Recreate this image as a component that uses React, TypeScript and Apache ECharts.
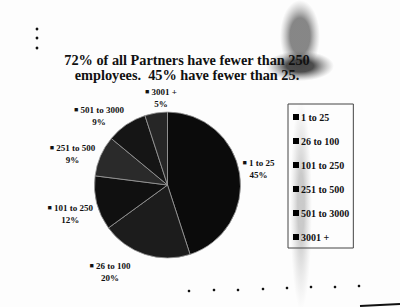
import React, { useEffect, useRef } from "react";
import * as echarts from "echarts";

const categories = ["1 to 25", "26 to 100", "101 to 250", "251 to 500", "501 to 3000", "3001 +"];
const shares = [45, 20, 12, 9, 9, 5];
const titleLines = ["72% of all Partners have fewer than 250", "employees.  45% have fewer than 25."];
const sliceColors = ["#0b0b0b", "#1c1c1c", "#101010", "#2a2a2a", "#151515", "#262626"];
// label nudges (layout only): [dx, dy] per slice
const labelNudge: [number, number][] = [
  [-7, -3],
  [-10, 10],
  [6, 9],
  [4, 1],
  [4, -2],
  [24, -7],
];

const SERIF = "'Liberation Serif', 'Times New Roman', serif";

const grad = (a: string, b: string, mid = 0.45) =>
  new echarts.graphic.RadialGradient(0.5, 0.5, 0.5, [
    { offset: 0, color: a },
    { offset: mid, color: a },
    { offset: 1, color: b },
  ]);

export default function App() {
  const ref = useRef<HTMLDivElement>(null);
  useEffect(() => {
    document.body.style.margin = "0";
    if (!ref.current) return;
    const chart = echarts.init(ref.current, null, { renderer: "svg" });
    const bottomDotsX = [189, 214, 238, 263, 287, 311, 335, 359];
    const bottomDotsY = [291, 290, 290, 289, 288, 287, 287, 286];
    chart.setOption({
      animation: false,
      backgroundColor: "#fdfdfd",
      title: {
        text: titleLines.join("\n"),
        left: 182,
        top: 47,
        textAlign: "center",
        textStyle: {
          fontFamily: SERIF,
          fontWeight: "bold",
          fontSize: 14.3,
          lineHeight: 15,
          color: "#111",
        },
      },
      legend: {
        orient: "vertical",
        left: 288,
        top: 104,
        data: categories,
        icon: "rect",
        itemWidth: 6,
        itemHeight: 6,
        itemGap: 12,
        padding: [7, 4, 5, 5],
        borderColor: "#444",
        borderWidth: 1,
        itemStyle: { color: "#000", borderWidth: 0 },
        textStyle: {
          fontFamily: SERIF,
          fontWeight: "bold",
          fontSize: 10,
          lineHeight: 12,
          color: "#111",
          padding: [0, 0, 0, -3],
        },
      },
      graphic: [
        { type: "ellipse", z: 0, shape: { cx: 300, cy: 36, rx: 20, ry: 36 }, style: { fill: grad("rgba(95,95,95,0.75)", "rgba(150,150,150,0)", 0.5) } },
        { type: "ellipse", z: 0, shape: { cx: 300, cy: 66, rx: 34, ry: 15 }, style: { fill: grad("rgba(45,45,45,0.85)", "rgba(120,120,120,0)", 0.4) } },
        { type: "ellipse", z: 0, shape: { cx: 301, cy: 205, rx: 11, ry: 105 }, style: { fill: grad("rgba(140,140,140,0.45)", "rgba(180,180,180,0)", 0.3) } },
        { type: "circle", shape: { cx: 37, cy: 29, r: 1.4 }, style: { fill: "#111" } },
        { type: "circle", shape: { cx: 37, cy: 38, r: 1.4 }, style: { fill: "#111" } },
        { type: "circle", shape: { cx: 37, cy: 48, r: 1.4 }, style: { fill: "#111" } },
        ...bottomDotsX.map((x, i) => ({
          type: "circle",
          shape: { cx: x, cy: bottomDotsY[i], r: 1.3 },
          style: { fill: "#111" },
        })),
        { type: "line", shape: { x1: 360, y1: 306, x2: 400, y2: 304 }, style: { stroke: "#111", lineWidth: 2 } },
      ],
      series: [
        {
          type: "pie",
          center: [167.5, 185],
          radius: 73,
          startAngle: 90,
          clockwise: true,
          avoidLabelOverlap: false,
          itemStyle: { borderColor: "#9a9a9a", borderWidth: 0.8 },
          label: {
            show: true,
            position: "outside",
            distanceToLabelLine: 2,
            formatter: "{s|■} {n|{b}}\n{p|{d}%}",
            color: "#111",
            fontFamily: SERIF,
            fontWeight: "bold",
            fontSize: 9,
            lineHeight: 12,
            rich: {
              s: { fontSize: 7, fontFamily: SERIF, color: "#111" },
              n: { fontSize: 9, fontFamily: SERIF, fontWeight: "bold", color: "#111" },
              p: { fontSize: 9, fontFamily: SERIF, fontWeight: "bold", color: "#111", align: "center" },
            },
          },
          labelLine: { show: false, length: 8, length2: 0 },
          labelLayout: (params: any) => {
            const n = labelNudge[params.dataIndex] || [0, 0];
            return { dx: n[0], dy: n[1] };
          },
          data: categories.map((c, i) => ({
            name: c,
            value: shares[i],
            itemStyle: { color: sliceColors[i] },
          })),
        },
      ],
    });
    return () => chart.dispose();
  }, []);
  return <div ref={ref} style={{ width: 400, height: 307 }} />;
}
